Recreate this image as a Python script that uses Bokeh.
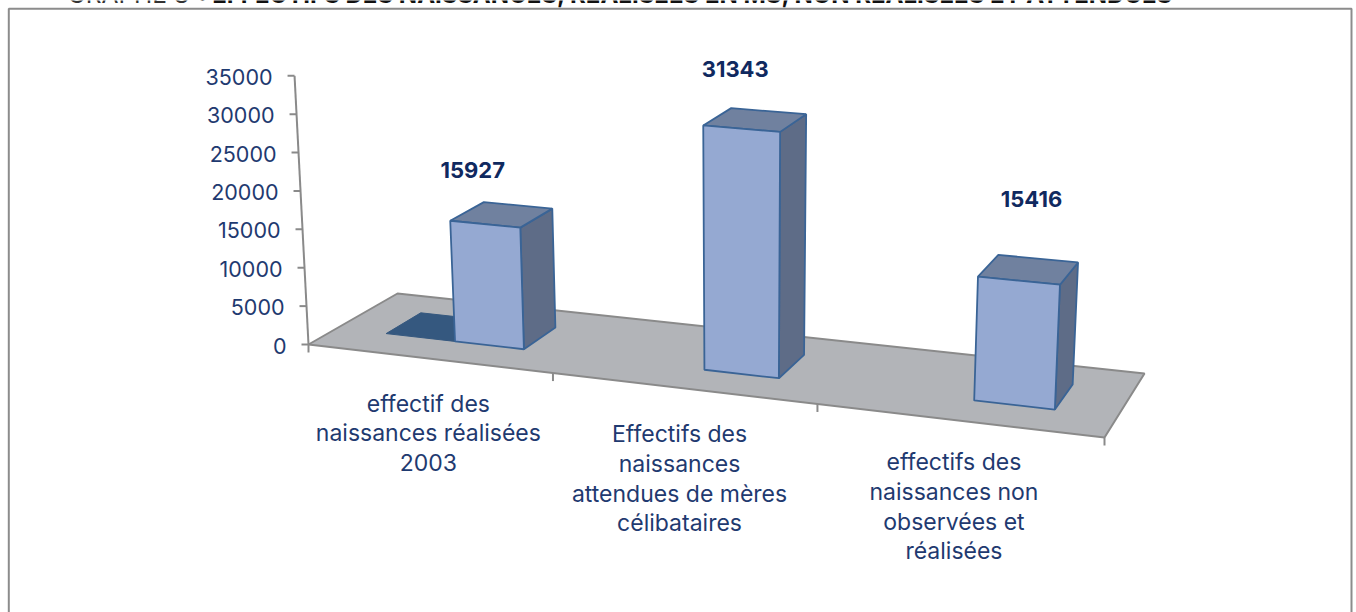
import numpy as np
from bokeh.plotting import figure
from bokeh.embed import file_html
from bokeh.resources import INLINE
from bokeh.core.properties import value

# ---- data -------------------------------------------------------------
categories = [
    ["effectif des", "naissances réalisées", "2003"],
    ["Effectifs des", "naissances", "attendues de mères", "célibataires"],
    ["effectifs des", "naissances non", "observées et", "réalisées"],
]
bar_values = [15927, 31343, 15416]
zero_series = [0]                 # flat companion bar of the first category
y_ticks = [0, 5000, 10000, 15000, 20000, 25000, 30000, 35000]
title_head = "GRAPHE 8"
title_body = ": EFFECTIFS DES NAISSANCES, RÉALISÉES EN MS, NON RÉALISÉES ET ATTENDUES"

# ---- oblique projection of the chart box -------------------------------
CORNERS = [((0, 0), (308, 344)), ((3, 0), (1104, 437)), ((0, 1), (397, 293)), ((3, 1), (1144, 373))]
A, b = [], []
for (u, d), (x, y) in CORNERS:
    A.append([u, d, 1, 0, 0, 0, -u * x, -d * x]); b.append(x)
    A.append([0, 0, 0, u, d, 1, -u * y, -d * y]); b.append(y)
h = np.linalg.solve(np.array(A, float), np.array(b, float))
H = np.array([[h[0], h[1], h[2]], [h[3], h[4], h[5]], [h[6], h[7], 1.0]])


def proj(u, d, v=0.0):
    r = H @ np.array([u, d, 1.0])
    fx, fy = r[0] / r[2], r[1] / r[2]
    k = v / 10000.0
    return fx + k * 0.0105 * (fx - 740), fy - k * (76 + 0.077 * (fy - 344))


def axis_pt(v):
    x0, _ = proj(0, 0, 0)
    x, y = proj(0, 0, v * 1.01)
    return x0 + (x - x0) * 0.87, y


def poly(*pts):
    xy = [proj(*q) for q in pts]
    return [q[0] for q in xy], [q[1] for q in xy]


# ---- styles ------------------------------------------------------------
TXT = "#1f3a70"
LBL = "#10295f"
GRID = "#8a8a8a"
EDGE = "#3a6496"
FONT = "Inter"

p = figure(width=1356, height=612, x_range=(0, 1356), y_range=(612, 0),
           output_backend="svg", toolbar_location=None, min_border=0,
           outline_line_color=None, margin=(0, 0, 0, 0))
p.axis.visible = False
p.grid.visible = False
p.background_fill_color = "white"
p.border_fill_color = "white"

# frame
p.line([8.3, 8.3, 1351, 1351], [620, 8.3, 8.3, 620], line_color="#8c8c8c", line_width=2)

# title (cut by the top of the page)
p.text([67], [-6.5], text=[title_head], text_font=value(FONT), text_font_size="24.5px",
       text_color="#333333", text_baseline="alphabetic")
p.text([198], [-6.5], text=[title_body], text_font=value(FONT), text_font_size="24px",
       text_font_style="bold", text_color="#111111", text_baseline="alphabetic")

# floor
fx, fy = poly((0, 0), (3, 0), (3, 1), (0, 1))
p.patch(fx, fy, fill_color="#b2b4b8", line_color=GRID, line_width=2)

# value axis
a0, a1 = axis_pt(0), axis_pt(y_ticks[-1])
p.line([a0[0], a1[0]], [a0[1], a1[1]], line_color=GRID, line_width=2)
for t in y_ticks:
    x, y = axis_pt(t)
    p.line([x - 7, x], [y, y], line_color=GRID, line_width=2)
    p.text([x - 22], [y + 1], text=[str(t)], text_font=value(FONT), text_font_size="21.5px",
           text_color=TXT, text_align="right", text_baseline="middle")

# category axis ticks and labels
LABEL_SHIFT = [(0, 45), (-3, 46), (-4, 42)]
for u in range(4):
    x, y = proj(u, 0)
    p.line([x, x], [y, y + 8], line_color=GRID, line_width=2)
for i, lines in enumerate(categories):
    x, y = proj(i + 0.5, 0)
    for k, s in enumerate(lines):
        p.text([x + LABEL_SHIFT[i][0]], [y + LABEL_SHIFT[i][1] + k * 29.7], text=[s],
               text_font=value(FONT), text_font_size="23px", text_color=TXT,
               text_align="center", text_baseline="middle")

# bars
U0, U1, D0, D1 = 0.5, 0.784, 0.308, 0.71
U00 = 0.21
for i, v in enumerate(zero_series):
    zx, zy = poly((i + U00, D0, v), (i + U0, D0, v), (i + U0, D1, v), (i + U00, D1, v))
    p.patch(zx, zy, fill_color="#35587f", line_color="#35587f", line_width=1)

for i, v in enumerate(bar_values):
    u0, u1 = i + U0, i + U1
    sx, sy = poly((u1, D0, 0), (u1, D1, 0), (u1, D1, v), (u1, D0, v))
    p.patch(sx, sy, fill_color="#5e6c87", line_color=EDGE, line_width=1.8)
    tx, ty = poly((u0, D0, v), (u1, D0, v), (u1, D1, v), (u0, D1, v))
    p.patch(tx, ty, fill_color="#70819f", line_color=EDGE, line_width=1.8)
    cx, cy = poly((u0, D0, 0), (u1, D0, 0), (u1, D0, v), (u0, D0, v))
    p.patch(cx, cy, fill_color="#95a9d2", line_color=EDGE, line_width=1.8)

# data labels
DATA_SHIFT = [(-29, -45), (-20, -51), (3, -70)]
for i, v in enumerate(bar_values):
    x, y = proj(i + (U0 + U1) / 2, (D0 + D1) / 2, v)
    p.text([x + DATA_SHIFT[i][0]], [y + DATA_SHIFT[i][1]], text=[str(v)], text_font=value(FONT),
           text_font_size="22px", text_font_style="bold", text_color=LBL,
           text_align="center", text_baseline="middle")

open("out.html", "w").write(file_html(p, INLINE))
